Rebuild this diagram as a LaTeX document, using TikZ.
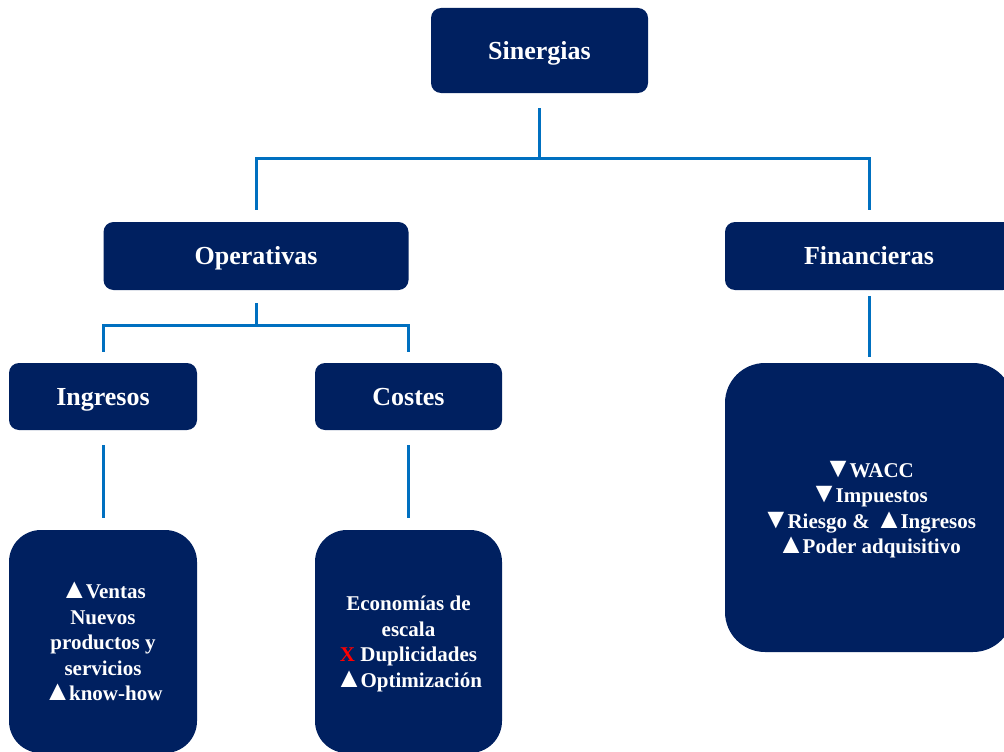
\documentclass[tikz,border=0pt]{standalone}
\usepackage{fontspec}
\setmainfont{Liberation Serif}
\usetikzlibrary{positioning, calc}
\definecolor{navy}{HTML}{002060}
\definecolor{linkblue}{HTML}{0070C0}
\newcommand{\hdrfont}{\fontsize{26}{30}\selectfont\bfseries}
\newcommand{\txtfont}{\fontsize{21}{25.5}\selectfont\bfseries}
% up / down marks, a bit larger than the text glyph
\newcommand{\upmark}{\scalebox{1.35}{▲}\kern-0.12em}
\newcommand{\downmark}{\scalebox{1.35}{▼}\kern-0.12em}
\tikzset{
  hdr/.style={
    fill=navy, text=white, rounded corners=10pt, inner sep=0pt,
    text height=17.2pt, text depth=0pt, font=\hdrfont
  },
  detail/.style={
    fill=navy, text=white, rounded corners=32pt, inner sep=0pt,
    text depth=0pt, align=center, font=\txtfont
  },
  link/.style={draw=linkblue, line width=3pt}
}

\begin{document}
\begin{tikzpicture}[x=1pt, y=-1pt]
  \clip (0,0) rectangle (1004,752);
  % headers
  \node[hdr, minimum width=217pt, minimum height=85pt] (sin) at (539.5,50.5) {Sinergias};
  \node[hdr, minimum width=305pt, minimum height=68pt] (ope) at (256,256) {Operativas};
  \node[hdr, minimum width=288pt, minimum height=68pt] (fin) at (869,256) {Financieras};
  \node[hdr, minimum width=188pt, minimum height=67pt] (ing) at (103,396.5) {Ingresos};
  \node[hdr, minimum width=187pt, minimum height=67pt] (cos) at (408.5,396.5) {Costes};
  % content boxes
  \node[detail, minimum width=188pt, minimum height=223pt] (ingd) at (103,641.5)
    {\upmark Ventas\\Nuevos\\productos y\\servicios\\\upmark know-how};
  \node[detail, minimum width=187pt, minimum height=223pt] (cosd) at (408.5,641.5)
    {Economías de\\escala\\\textcolor{red}{X} Duplicidades\\\upmark Optimización};
  \node[detail, rounded corners=40pt, minimum width=288pt, minimum height=289pt] (find) at (869,507.5)
    {\downmark WACC\\\downmark Impuestos\\\downmark Riesgo \& \upmark Ingresos\\\upmark Poder adquisitivo};
  % tree lines
  \coordinate (forka) at ($(sin.south)+(0,65)$);
  \coordinate (forkb) at ($(ope.south)+(0,35)$);
  \draw[link] ([yshift=-15pt]sin.south) -- (forka);
  \draw[link] ([yshift=12pt]ope.north) |- (forka) -| ([yshift=12pt]fin.north);
  \draw[link] ([yshift=-13pt]ope.south) -- (forkb);
  \draw[link] ([yshift=11pt]ing.north) |- (forkb) -| ([yshift=11pt]cos.north);
  \draw[link] ([yshift=-15pt]ing.south) -- ([yshift=12pt]ingd.north);
  \draw[link] ([yshift=-15pt]cos.south) -- ([yshift=12pt]cosd.north);
  \draw[link] ([yshift=-6pt]fin.south) -- ([yshift=6pt]find.north);
\end{tikzpicture}
\end{document}
